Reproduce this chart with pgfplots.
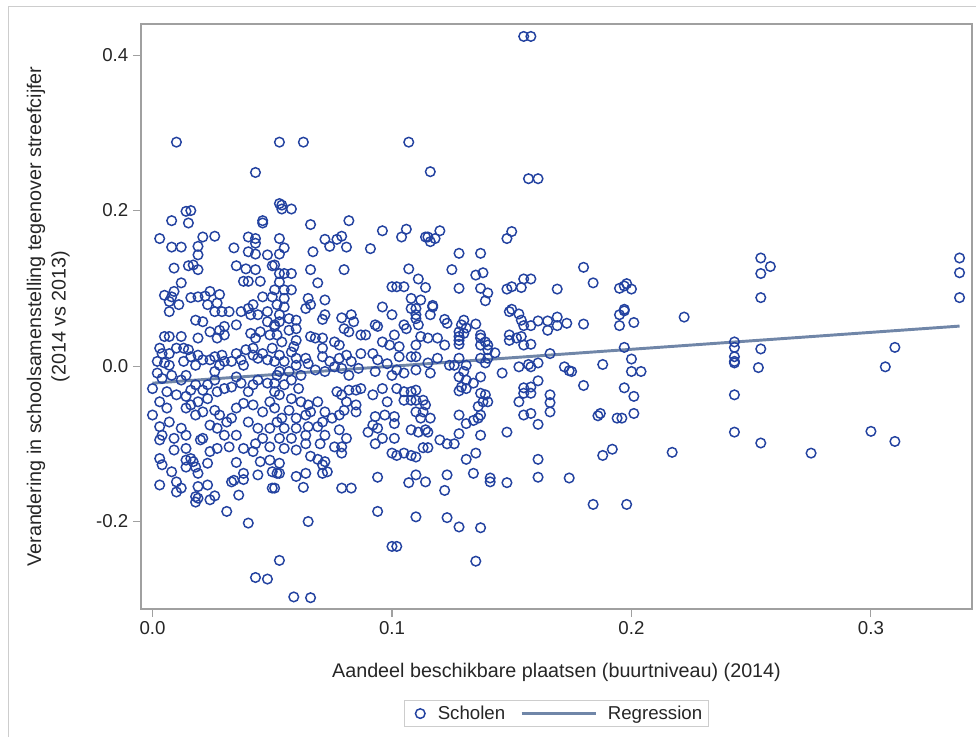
\documentclass[border=0pt]{standalone}
\usepackage{pgfplots}
\pgfplotsset{compat=1.18}
\usepackage{fontspec}
\setmainfont{Liberation Sans}
\definecolor{mk}{RGB}{35,66,160}
\definecolor{rg}{RGB}{112,134,168}
\definecolor{fr}{RGB}{160,160,160}
\definecolor{bd}{RGB}{205,205,205}
\pgfplotsset{
  mkleg/.style={legend image code/.code={\draw[##1] plot coordinates {(0pt,0pt)};\path (-6.75pt,0pt) (12.75pt,0pt);}},
  lnleg/.style={legend image code/.code={\draw[##1] (0pt,0pt) -- (56pt,0pt);\path (63.5pt,0pt);}},
}
\begin{document}
\begin{tikzpicture}
\path[use as bounding box] (0,0) rectangle (732pt,552.75pt);
\draw[bd, line width=0.75pt] (6pt,0pt) -- (6pt,547.5pt) -- (732pt,547.5pt);
\begin{axis}[
  at={(105.75pt,96pt)}, anchor=south west,
  width=623.25pt, height=438.75pt, scale only axis,
  xmin=-0.0048, xmax=0.3422, ymin=-0.3125, ymax=0.44,
  xtick={0,0.1,0.2,0.3}, ytick={-0.2,0,0.2,0.4},
  axis line style={fr, line width=0.8pt},
  tick style={fr, line width=0.8pt},
  tick align=outside, major tick length=6pt,
  xtick pos=bottom, ytick pos=left,
  /pgf/number format/assume math mode=true,
  xticklabel style={/pgf/number format/.cd, fixed, fixed zerofill, precision=1},
  yticklabel style={/pgf/number format/.cd, fixed, fixed zerofill, precision=1},
  ticklabel style={font=\fontsize{14}{16}\selectfont, text=black!85},
  label style={font=\fontsize{14.8}{18.5}\selectfont, text=black!85},
  xlabel={Aandeel beschikbare plaatsen (buurtniveau) (2014)},
  xlabel style={at={(axis description cs:0.5,0)}, anchor=base, yshift=-51.75pt, inner sep=0pt},
  ylabel={Verandering in schoolsamenstelling tegenover streefcijfer\\(2014 vs 2013)},
  ylabel style={at={(axis description cs:-0.0854,0.5)}, anchor=south, align=center, inner sep=0pt},
  legend style={at={(axis description cs:0.5,0)}, anchor=north, yshift=-68.25pt,
    draw=bd, line width=0.75pt, font=\fontsize{14}{16}\selectfont, text=black!85,
    inner xsep=4.5pt, inner ysep=1.5pt,
    nodes={inner xsep=0pt, inner ysep=2.5pt},
    /tikz/every even column/.append style={column sep=11.25pt}},
  legend columns=2,
]
\addplot[only marks, mark=o, mark size=3.6pt, mk, mark options={line width=1.1pt}, mkleg] table {
x y
0.010 0.288
0.053 0.288
0.063 0.288
0.107 0.288
0.155 0.424
0.158 0.424
0.116 0.250
0.157 0.241
0.161 0.241
0.114 0.166
0.115 0.166
0.116 0.160
0.118 0.164
0.120 0.174
0.150 0.173
0.148 0.164
0.128 0.145
0.137 0.145
0.125 0.124
0.135 0.117
0.138 0.120
0.111 0.112
0.114 0.101
0.112 0.085
0.117 0.078
0.128 0.100
0.137 0.100
0.140 0.094
0.139 0.084
0.148 0.099
0.150 0.102
0.154 0.101
0.155 0.112
0.158 0.112
0.169 0.099
0.180 0.127
0.184 0.107
0.195 0.100
0.197 0.103
0.198 0.106
0.200 0.099
0.197 0.073
0.150 0.073
0.254 0.139
0.258 0.128
0.254 0.119
0.254 0.088
0.337 0.139
0.337 0.120
0.337 0.088
0.222 0.063
0.243 0.031
0.243 0.024
0.243 0.012
0.243 0.006
0.243 0.004
0.254 0.022
0.253 -0.002
0.243 -0.037
0.243 -0.085
0.254 -0.099
0.275 -0.112
0.300 -0.084
0.310 -0.097
0.310 0.024
0.306 -0.001
0.117 0.076
0.116 0.066
0.122 0.060
0.123 0.055
0.111 0.053
0.130 0.059
0.129 0.053
0.131 0.049
0.128 0.044
0.128 0.038
0.128 0.033
0.130 0.042
0.128 0.028
0.135 0.054
0.137 0.040
0.137 0.036
0.137 0.027
0.139 0.031
0.140 0.027
0.140 0.021
0.143 0.017
0.137 0.010
0.140 0.010
0.139 0.004
0.128 0.010
0.131 0.001
0.126 0.001
0.124 0.001
0.119 0.010
0.115 0.004
0.116 -0.009
0.110 0.012
0.146 -0.009
0.153 -0.001
0.157 0.002
0.158 -0.001
0.161 0.004
0.161 -0.019
0.166 0.016
0.172 -0.001
0.174 -0.006
0.175 -0.007
0.180 -0.025
0.188 0.002
0.197 0.024
0.200 0.009
0.200 -0.007
0.204 -0.007
0.197 -0.028
0.201 -0.039
0.201 -0.061
0.194 -0.067
0.196 -0.067
0.186 -0.064
0.187 -0.061
0.192 -0.107
0.188 -0.115
0.217 -0.111
0.195 0.066
0.197 0.071
0.195 0.052
0.201 0.056
0.180 0.054
0.169 0.063
0.169 0.052
0.173 0.055
0.165 0.058
0.165 0.046
0.161 0.058
0.158 0.052
0.155 0.052
0.153 0.067
0.154 0.059
0.149 0.070
0.149 0.040
0.149 0.033
0.152 0.036
0.154 0.038
0.155 0.027
0.158 0.028
0.155 -0.028
0.158 -0.027
0.158 -0.035
0.155 -0.035
0.153 -0.046
0.166 -0.037
0.166 -0.047
0.166 -0.059
0.161 -0.075
0.155 -0.063
0.158 -0.061
0.148 -0.085
0.161 -0.120
0.161 -0.143
0.174 -0.144
0.184 -0.178
0.198 -0.178
0.148 -0.150
0.141 -0.144
0.141 -0.149
0.134 -0.138
0.131 -0.120
0.135 -0.112
0.137 -0.089
0.128 -0.087
0.126 -0.100
0.123 -0.100
0.120 -0.095
0.113 -0.105
0.115 -0.105
0.110 -0.117
0.110 -0.140
0.114 -0.149
0.123 -0.140
0.122 -0.160
0.110 -0.194
0.123 -0.195
0.128 -0.207
0.137 -0.208
0.135 -0.251
0.128 -0.063
0.131 -0.074
0.134 -0.070
0.136 -0.067
0.137 -0.063
0.136 -0.052
0.137 -0.035
0.139 -0.037
0.140 -0.046
0.138 -0.046
0.128 -0.032
0.129 -0.027
0.131 -0.029
0.131 -0.018
0.128 -0.014
0.130 -0.007
0.134 -0.022
0.137 -0.014
0.110 -0.031
0.113 -0.044
0.114 -0.050
0.113 -0.059
0.112 -0.067
0.116 -0.067
0.114 -0.082
0.115 -0.085
0.111 -0.085
0.110 -0.059
0.110 -0.044
0.110 0.074
0.110 0.066
0.112 0.038
0.115 0.036
0.119 0.036
0.122 0.027
0.043 0.249
0.014 0.199
0.016 0.200
0.008 0.187
0.015 0.184
0.046 0.184
0.046 0.187
0.003 0.164
0.008 0.153
0.012 0.153
0.021 0.166
0.026 0.167
0.019 0.154
0.019 0.143
0.034 0.152
0.040 0.166
0.043 0.164
0.043 0.158
0.040 0.147
0.043 0.144
0.048 0.143
0.009 0.126
0.015 0.129
0.017 0.130
0.019 0.124
0.035 0.129
0.039 0.125
0.043 0.124
0.050 0.129
0.012 0.107
0.038 0.109
0.040 0.109
0.045 0.109
0.005 0.091
0.009 0.096
0.008 0.089
0.016 0.088
0.019 0.089
0.022 0.090
0.024 0.096
0.028 0.092
0.046 0.089
0.050 0.089
0.053 0.209
0.054 0.207
0.054 0.202
0.058 0.202
0.066 0.182
0.082 0.187
0.096 0.174
0.106 0.176
0.104 0.166
0.053 0.164
0.055 0.152
0.053 0.144
0.072 0.163
0.077 0.163
0.079 0.167
0.074 0.154
0.081 0.153
0.067 0.147
0.091 0.151
0.051 0.130
0.053 0.119
0.055 0.119
0.058 0.119
0.053 0.108
0.066 0.124
0.080 0.124
0.069 0.107
0.107 0.125
0.100 0.102
0.102 0.102
0.105 0.102
0.055 0.098
0.058 0.098
0.051 0.098
0.065 0.087
0.072 0.085
0.108 0.087
0.007 0.083
0.011 0.079
0.007 0.070
0.023 0.079
0.027 0.081
0.026 0.070
0.029 0.070
0.032 0.070
0.037 0.070
0.040 0.074
0.042 0.079
0.044 0.066
0.048 0.070
0.041 0.066
0.052 0.079
0.018 0.059
0.021 0.057
0.035 0.053
0.048 0.057
0.051 0.051
0.005 0.038
0.007 0.038
0.012 0.038
0.019 0.036
0.024 0.044
0.028 0.046
0.030 0.051
0.030 0.040
0.027 0.036
0.041 0.042
0.043 0.036
0.045 0.044
0.049 0.040
0.052 0.040
0.003 0.023
0.004 0.016
0.007 0.016
0.010 0.023
0.013 0.023
0.015 0.021
0.016 0.012
0.019 0.014
0.021 0.008
0.024 0.008
0.026 0.012
0.029 0.014
0.030 0.006
0.033 0.006
0.035 0.016
0.037 0.008
0.039 0.021
0.042 0.023
0.042 0.014
0.044 0.010
0.046 0.016
0.048 0.008
0.051 0.006
0.050 0.023
0.002 0.006
0.005 0.004
0.007 0.001
0.013 0.006
0.018 0.001
0.028 0.001
0.038 0.001
0.000 -0.029
0.002 -0.009
0.004 -0.016
0.008 -0.012
0.012 -0.018
0.014 -0.012
0.016 -0.031
0.018 -0.024
0.021 -0.031
0.023 -0.024
0.026 -0.018
0.027 -0.033
0.030 -0.029
0.033 -0.027
0.037 -0.022
0.040 -0.033
0.042 -0.024
0.044 -0.018
0.048 -0.022
0.051 -0.033
0.052 -0.012
0.006 -0.033
0.010 -0.037
0.014 -0.039
0.035 -0.014
0.026 -0.007
0.000 -0.063
0.003 -0.046
0.006 -0.054
0.003 -0.078
0.004 -0.089
0.007 -0.072
0.009 -0.093
0.012 -0.080
0.014 -0.054
0.016 -0.050
0.019 -0.046
0.023 -0.042
0.018 -0.063
0.021 -0.059
0.026 -0.057
0.028 -0.063
0.024 -0.076
0.027 -0.080
0.031 -0.072
0.033 -0.067
0.035 -0.054
0.038 -0.048
0.042 -0.050
0.046 -0.059
0.049 -0.046
0.051 -0.054
0.040 -0.072
0.044 -0.080
0.049 -0.080
0.035 -0.089
0.030 -0.089
0.021 -0.093
0.014 -0.089
0.046 -0.093
0.052 -0.072
0.055 0.087
0.055 0.076
0.066 0.079
0.064 0.074
0.072 0.066
0.071 0.060
0.053 0.066
0.057 0.061
0.060 0.059
0.079 0.062
0.083 0.066
0.084 0.057
0.080 0.048
0.082 0.044
0.087 0.040
0.089 0.040
0.096 0.076
0.100 0.066
0.108 0.074
0.105 0.053
0.110 0.061
0.106 0.048
0.094 0.051
0.093 0.053
0.096 0.031
0.099 0.027
0.103 0.025
0.101 0.040
0.103 0.012
0.108 0.012
0.051 0.053
0.053 0.057
0.057 0.046
0.060 0.048
0.066 0.038
0.054 0.031
0.060 0.033
0.058 0.018
0.059 0.025
0.060 0.010
0.053 0.014
0.055 0.006
0.060 0.001
0.064 0.010
0.065 0.003
0.068 0.036
0.071 0.036
0.071 0.023
0.071 0.012
0.076 0.031
0.078 0.027
0.074 0.006
0.078 0.010
0.081 0.014
0.083 0.006
0.079 -0.003
0.082 -0.012
0.087 0.016
0.092 0.016
0.094 0.008
0.093 -0.007
0.086 -0.003
0.098 0.003
0.100 -0.012
0.102 -0.005
0.105 -0.009
0.110 -0.005
0.110 0.027
0.053 -0.007
0.057 -0.007
0.062 -0.012
0.068 -0.005
0.072 -0.007
0.076 -0.001
0.051 -0.022
0.055 -0.024
0.058 -0.018
0.061 -0.029
0.053 -0.037
0.058 -0.042
0.062 -0.046
0.065 -0.050
0.057 -0.057
0.054 -0.067
0.060 -0.067
0.064 -0.063
0.066 -0.059
0.069 -0.046
0.072 -0.059
0.077 -0.033
0.079 -0.037
0.081 -0.046
0.082 -0.031
0.085 -0.031
0.087 -0.029
0.092 -0.037
0.096 -0.029
0.102 -0.029
0.105 -0.033
0.108 -0.033
0.098 -0.046
0.105 -0.044
0.108 -0.044
0.085 -0.050
0.080 -0.057
0.078 -0.063
0.075 -0.067
0.071 -0.072
0.085 -0.059
0.093 -0.065
0.097 -0.063
0.101 -0.065
0.092 -0.076
0.101 -0.074
0.108 -0.082
0.090 -0.085
0.094 -0.080
0.069 -0.078
0.065 -0.078
0.055 -0.080
0.060 -0.080
0.078 -0.082
0.081 -0.093
0.072 -0.089
0.064 -0.089
0.053 -0.093
0.058 -0.093
0.096 -0.093
0.101 -0.093
0.003 -0.119
0.004 -0.127
0.008 -0.136
0.003 -0.153
0.010 -0.149
0.010 -0.162
0.012 -0.157
0.014 -0.121
0.016 -0.119
0.017 -0.123
0.014 -0.130
0.018 -0.130
0.019 -0.138
0.019 -0.155
0.023 -0.153
0.018 -0.175
0.019 -0.170
0.026 -0.167
0.024 -0.172
0.018 -0.168
0.023 -0.125
0.027 -0.106
0.024 -0.110
0.031 -0.187
0.035 -0.124
0.036 -0.166
0.033 -0.149
0.034 -0.147
0.038 -0.138
0.038 -0.146
0.040 -0.202
0.044 -0.140
0.045 -0.123
0.049 -0.121
0.050 -0.136
0.050 -0.157
0.052 -0.138
0.043 -0.272
0.048 -0.274
0.003 -0.095
0.009 -0.108
0.014 -0.106
0.020 -0.095
0.032 -0.104
0.038 -0.106
0.043 -0.100
0.049 -0.104
0.042 -0.110
0.055 -0.106
0.060 -0.108
0.064 -0.100
0.070 -0.100
0.076 -0.104
0.079 -0.104
0.079 -0.112
0.093 -0.100
0.100 -0.112
0.102 -0.115
0.105 -0.112
0.108 -0.115
0.053 -0.125
0.053 -0.138
0.051 -0.157
0.060 -0.142
0.064 -0.138
0.063 -0.156
0.066 -0.116
0.069 -0.120
0.072 -0.123
0.071 -0.138
0.073 -0.136
0.071 -0.127
0.079 -0.157
0.083 -0.157
0.094 -0.143
0.094 -0.187
0.107 -0.150
0.065 -0.200
0.100 -0.232
0.102 -0.232
0.053 -0.250
0.059 -0.297
0.066 -0.298
};
\addlegendentry{Scholen}
\addplot[rg, line width=2.2pt, lnleg] coordinates {(0,-0.022) (0.337,0.0514)};
\addlegendentry{Regression}
\end{axis}
\end{tikzpicture}
\end{document}
